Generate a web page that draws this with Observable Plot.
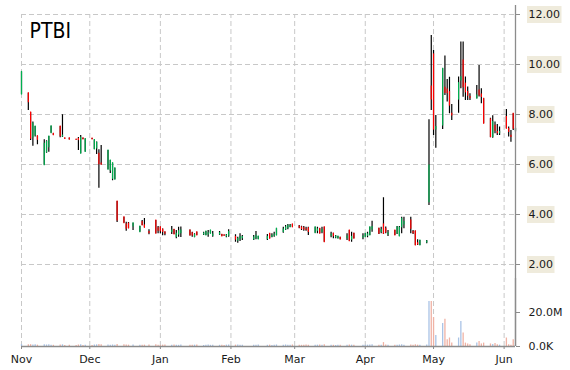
<!DOCTYPE html>
<html><head><meta charset="utf-8">
<script src="https://cdn.jsdelivr.net/npm/d3@7"></script>
<script src="https://cdn.jsdelivr.net/npm/@observablehq/plot@0.6"></script>
<style>
body{margin:0;background:#fff;}
#chart{position:relative;width:570px;height:370px;}
#chart svg{position:absolute;left:0;top:0;}
</style></head><body><div id="chart"></div>
<script>
const ticker = "PTBI";
const dates = [
"2024-11-01","2024-11-04","2024-11-05","2024-11-06","2024-11-07","2024-11-08","2024-11-11","2024-11-12","2024-11-13","2024-11-14",
"2024-11-15","2024-11-18","2024-11-19","2024-11-20","2024-11-22","2024-11-25","2024-11-26","2024-11-27","2024-11-28","2024-11-29",
"2024-12-02","2024-12-03","2024-12-04","2024-12-05","2024-12-06","2024-12-09","2024-12-10","2024-12-11","2024-12-12","2024-12-13",
"2024-12-16","2024-12-17","2024-12-18","2024-12-20","2024-12-23","2024-12-24","2024-12-25","2024-12-27","2024-12-30","2024-12-31",
"2025-01-01","2025-01-02","2025-01-03","2025-01-06","2025-01-07","2025-01-08","2025-01-09","2025-01-10","2025-01-14","2025-01-15",
"2025-01-16","2025-01-17","2025-01-20","2025-01-21","2025-01-22","2025-01-23","2025-01-24","2025-01-27","2025-01-28","2025-01-29",
"2025-01-30","2025-01-31","2025-02-03","2025-02-04","2025-02-05","2025-02-06","2025-02-11","2025-02-12","2025-02-13","2025-02-17",
"2025-02-18","2025-02-19","2025-02-20","2025-02-21","2025-02-24","2025-02-25","2025-02-26","2025-02-27","2025-02-28","2025-03-03",
"2025-03-04","2025-03-05","2025-03-06","2025-03-07","2025-03-10","2025-03-11","2025-03-12","2025-03-13","2025-03-14","2025-03-17",
"2025-03-18","2025-03-19","2025-03-20","2025-03-21","2025-03-24","2025-03-25","2025-03-26","2025-03-27","2025-03-31","2025-04-01",
"2025-04-02","2025-04-03","2025-04-04","2025-04-07","2025-04-08","2025-04-09","2025-04-10","2025-04-11","2025-04-14","2025-04-15",
"2025-04-16","2025-04-17","2025-04-18","2025-04-21","2025-04-22","2025-04-23","2025-04-24","2025-04-25","2025-04-28","2025-04-29",
"2025-04-30","2025-05-01","2025-05-02","2025-05-05","2025-05-06","2025-05-07","2025-05-08","2025-05-09","2025-05-12","2025-05-13",
"2025-05-14","2025-05-15","2025-05-16","2025-05-17","2025-05-20","2025-05-21","2025-05-22","2025-05-23","2025-05-26","2025-05-27",
"2025-05-28","2025-05-29","2025-05-30","2025-06-02","2025-06-03","2025-06-04","2025-06-05","2025-06-06"];
const open = [
8.8,8.85,8.08,7.08,7.16,7.13,5.97,6.49,6.69,7.25,
7.23,7.52,7.12,7.05,7.05,7.0,7.02,6.43,7.05,6.5,
7.04,6.6,6.64,6.43,6.04,5.79,5.76,5.43,5.39,4.52,
3.89,3.6,3.63,3.52,3.29,3.7,3.56,3.3,3.76,3.45,
3.49,3.4,3.29,3.3,3.39,3.1,3.2,3.25,3.36,3.25,
3.1,3.29,3.2,3.16,3.2,3.23,3.15,3.2,3.19,3.17,
3.12,3.15,3.1,2.95,3.0,3.05,3.0,3.05,3.0,3.02,
3.23,3.1,3.15,3.16,3.3,3.4,3.45,3.5,3.6,3.52,
3.48,3.45,3.4,3.45,3.25,3.35,3.43,3.3,3.49,3.15,
3.23,3.08,3.03,3.07,3.05,3.36,3.0,3.23,3.08,3.09,
3.15,3.16,3.4,3.43,3.3,3.6,3.43,3.2,3.36,3.23,
3.12,3.49,3.6,3.76,3.3,3.33,2.85,2.76,2.88,4.49,
9.12,10.4,7.4,7.56,9.07,9.0,8.89,8.03,8.6,9.36,
10.16,9.23,8.9,8.7,8.63,8.96,8.8,8.63,7.8,7.1,
7.55,7.3,7.25,7.9,7.42,7.15,8.03,7.36];
const high = [
9.7,8.85,8.08,7.7,7.52,7.13,6.99,6.95,7.12,7.53,
7.24,7.52,7.99,7.05,7.05,7.0,7.08,7.16,7.05,7.02,
7.04,6.98,6.9,6.59,6.76,6.56,6.16,6.05,5.85,4.52,
3.89,3.69,3.68,3.65,3.52,3.76,3.84,3.39,3.76,3.52,
3.5,3.42,3.3,3.52,3.4,3.36,3.49,3.5,3.38,3.29,
3.23,3.29,3.29,3.32,3.36,3.36,3.32,3.32,3.2,3.18,
3.2,3.39,3.19,3.09,3.23,3.16,3.16,3.32,3.12,3.2,
3.23,3.23,3.29,3.43,3.49,3.56,3.6,3.6,3.6,3.56,
3.53,3.52,3.49,3.49,3.49,3.49,3.43,3.49,3.49,3.29,
3.25,3.16,3.12,3.09,3.23,3.36,3.29,3.25,3.23,3.23,
3.29,3.49,3.73,3.45,3.49,4.67,3.5,3.36,3.36,3.52,
3.52,3.89,3.89,3.89,3.36,3.33,2.99,2.96,2.96,7.79,
11.16,10.56,7.96,9.83,10.34,9.4,9.49,8.4,9.5,10.9,
10.9,9.5,9.1,8.83,9.16,9.96,9.03,8.63,7.85,7.95,
7.7,7.6,7.5,8.2,7.5,7.36,8.03,7.45];
const low = [
8.8,8.16,6.96,6.73,7.1,6.79,5.97,6.45,6.49,7.25,
7.16,7.07,7.08,7.02,6.99,6.98,6.56,6.43,7.0,6.5,
7.0,6.6,6.4,5.05,5.98,5.79,5.64,5.35,5.39,3.68,
3.65,3.33,3.43,3.36,3.29,3.56,3.47,3.19,3.23,3.23,
3.23,3.15,3.15,3.2,3.2,3.03,3.09,3.08,3.14,3.09,
3.07,3.16,3.16,3.16,3.09,3.23,3.09,3.16,3.12,3.14,
3.07,3.09,2.89,2.85,2.92,2.96,2.96,2.99,3.0,2.96,
3.03,3.07,3.09,3.16,3.25,3.36,3.39,3.47,3.49,3.43,
3.36,3.33,3.33,3.16,3.25,3.23,3.23,3.23,2.89,3.07,
3.03,3.03,3.03,2.99,2.96,2.93,2.89,3.03,2.99,3.09,
3.07,3.16,3.29,3.2,3.23,3.2,3.23,3.12,3.16,3.2,
3.12,3.23,3.43,3.23,3.2,2.76,2.76,2.76,2.83,4.36,
8.16,7.16,6.65,7.4,8.76,8.5,8.03,7.76,8.05,9.03,
8.69,8.56,8.56,8.56,8.63,8.7,8.43,7.63,7.07,7.05,
7.23,7.16,7.16,7.43,7.1,6.89,7.36,7.3];
const close = [
9.7,8.49,7.03,7.64,7.52,6.99,6.83,6.9,7.12,7.53,
7.17,7.13,7.15,7.02,6.99,6.98,6.98,7.07,7.0,7.02,
7.0,6.98,6.87,6.01,5.99,6.56,6.16,6.05,5.85,3.76,
3.65,3.43,3.45,3.65,3.52,3.56,3.47,3.25,3.23,3.35,
3.33,3.3,3.23,3.36,3.2,3.23,3.33,3.36,3.16,3.16,
3.18,3.16,3.24,3.32,3.25,3.36,3.2,3.25,3.12,3.14,
3.16,3.3,3.0,3.02,3.1,3.1,3.08,3.15,3.12,3.1,
3.03,3.15,3.2,3.43,3.4,3.48,3.55,3.55,3.49,3.47,
3.42,3.4,3.38,3.3,3.49,3.4,3.23,3.38,2.89,3.2,
3.13,3.12,3.12,3.0,3.12,2.93,3.1,3.03,3.12,3.23,
3.2,3.49,3.5,3.23,3.38,3.23,3.28,3.25,3.16,3.49,
3.47,3.83,3.7,3.43,3.25,2.76,2.8,2.96,2.92,5.96,
8.6,7.4,7.5,9.83,8.86,8.85,8.36,7.96,9.25,9.49,
9.09,8.89,8.75,8.65,8.76,8.76,8.7,7.63,7.1,7.7,
7.35,7.25,7.3,7.43,7.3,7.1,7.43,7.43];
// volume in millions
const volume = [
1.2,1.0,1.1,0.9,1.0,0.8,1.1,0.9,1.0,0.8,
0.7,0.9,1.0,0.6,0.7,0.6,0.9,1.0,0.6,0.8,
0.6,0.9,1.0,1.2,1.0,0.9,0.8,0.9,0.8,1.2,
1.0,0.9,0.8,0.9,0.8,0.7,0.8,0.9,1.0,0.8,
0.7,0.8,0.9,0.8,0.9,0.8,0.7,0.9,0.8,0.7,
0.8,0.9,0.6,0.8,0.9,0.7,0.8,0.7,0.8,0.6,
0.8,0.9,0.8,0.9,0.7,0.8,0.7,0.8,0.9,0.7,
0.8,0.6,0.8,0.9,0.8,0.9,0.7,0.8,0.9,0.8,
0.7,0.8,0.9,0.8,0.7,0.8,0.9,0.7,1.0,0.8,
0.7,0.6,0.8,0.7,0.8,0.9,0.8,0.7,0.8,0.7,
0.8,0.9,1.0,0.8,0.7,2.3,0.9,0.8,0.7,0.8,
0.9,1.0,0.8,0.9,0.7,1.0,0.8,0.7,0.9,26.5,
26.5,17,6.5,13.5,16,4,5,2,5,14.7,
8,2,1.5,1,2,3,1.5,2,1.5,1.2,
1.8,1.0,0.8,5,1.0,0.8,4,0.5];
const priceTicks = [2, 4, 6, 8, 10, 12];
const volumeTicks = [0, 20];
const monthTicks = ["2024-11-01","2024-12-01","2025-01-01","2025-02-01","2025-03-01","2025-04-01","2025-05-01","2025-06-01"];

const parse = d3.utcParse("%Y-%m-%d");
const bars = dates.map((d, i) => ({date: parse(d), open: open[i], high: high[i], low: low[i], close: close[i], volume: volume[i]}));
const up = bars.filter(d => d.close >= d.open);
const down = bars.filter(d => d.close < d.open);
const months = monthTicks.map(parse);
const xDomain = [parse("2024-11-01"), parse("2025-06-06")];
const priceDomain = [-1.28, 12.36];

const GREEN = "#00b050", RED = "#ff0000", GRID = "#c8c8c8", AXIS = "#8c8c8c", TEXT = "#1a1a1a";
const font = {fontFamily: "DejaVu Sans", fontSize: "11px", background: "transparent", color: TEXT};

const price = Plot.plot({
  width: 570, height: 370,
  marginLeft: 21, marginRight: 55, marginTop: 5, marginBottom: 24,
  style: font,
  x: {type: "utc", domain: xDomain, axis: null},
  y: {domain: priceDomain, label: null},
  marks: [
    Plot.gridY(priceTicks, {stroke: GRID, strokeOpacity: 1, strokeDasharray: "5,3"}),
    Plot.gridX(months, {stroke: GRID, strokeOpacity: 1, strokeDasharray: "5,3", y1: priceDomain[0], y2: priceTicks[priceTicks.length - 1]}),
    Plot.ruleX(bars, {x: "date", y1: "low", y2: "high", stroke: "#000", strokeWidth: 1.2}),
    Plot.ruleX(up, {x: "date", y1: "open", y2: "close", stroke: GREEN, strokeWidth: 1.2, strokeLinecap: "square"}),
    Plot.ruleX(down, {x: "date", y1: "open", y2: "close", stroke: RED, strokeWidth: 1.2, strokeLinecap: "square"}),
    Plot.ruleX([xDomain[1]], {stroke: AXIS, strokeWidth: 1.3}),
    Plot.axisY(priceTicks, {anchor: "right", label: null, tickSize: 4, tickPadding: 9, tickFormat: d => d.toFixed(2), stroke: AXIS, fill: TEXT}),
    Plot.text([ticker], {frameAnchor: "top-left", text: d => d, dx: 8, dy: 18, lineAnchor: "top", textAnchor: "start",
      fontSize: 21, fontFamily: "DejaVu Sans Condensed, DejaVu Sans", fill: "#000"})
  ]
});

const vol = Plot.plot({
  width: 570, height: 370,
  marginLeft: 21, marginRight: 55, marginTop: 278, marginBottom: 24,
  style: font,
  x: {type: "utc", domain: xDomain, label: null},
  y: {domain: [0, 40], label: null},
  marks: [
    Plot.ruleX(up, {x: "date", y: "volume", stroke: "#a9c3e6", strokeWidth: 1.3}),
    Plot.ruleX(down, {x: "date", y: "volume", stroke: "#f0b2a4", strokeWidth: 1.3}),
    Plot.ruleY([0], {stroke: AXIS, strokeWidth: 1.3}),
    Plot.ruleX([xDomain[1]], {stroke: AXIS, strokeWidth: 1.3}),
    Plot.axisY(volumeTicks, {anchor: "right", label: null, tickSize: 4, tickPadding: 9, tickFormat: v => v === 0 ? "0.0K" : v.toFixed(1) + "M", stroke: AXIS, fill: TEXT}),
    Plot.axisX(months, {label: null, tickSize: 3, tickPadding: 6, tickFormat: d3.utcFormat("%b"), stroke: AXIS, fill: TEXT})
  ]
});

const chart = document.getElementById("chart");
chart.appendChild(price);
chart.appendChild(vol);

// beige label boxes behind the price tick labels
price.querySelectorAll('g[aria-label="y-axis tick label"] text').forEach(t => {
  const bb = t.getBBox();
  const r = document.createElementNS("http://www.w3.org/2000/svg", "rect");
  r.setAttribute("x", bb.x - 1.5);
  r.setAttribute("y", bb.y - 2);
  r.setAttribute("width", bb.width + 3);
  r.setAttribute("height", bb.height + 4);
  r.setAttribute("fill", "#efebdc");
  if (t.getAttribute("transform")) r.setAttribute("transform", t.getAttribute("transform"));
  t.parentNode.insertBefore(r, t);
});
</script></body></html>
